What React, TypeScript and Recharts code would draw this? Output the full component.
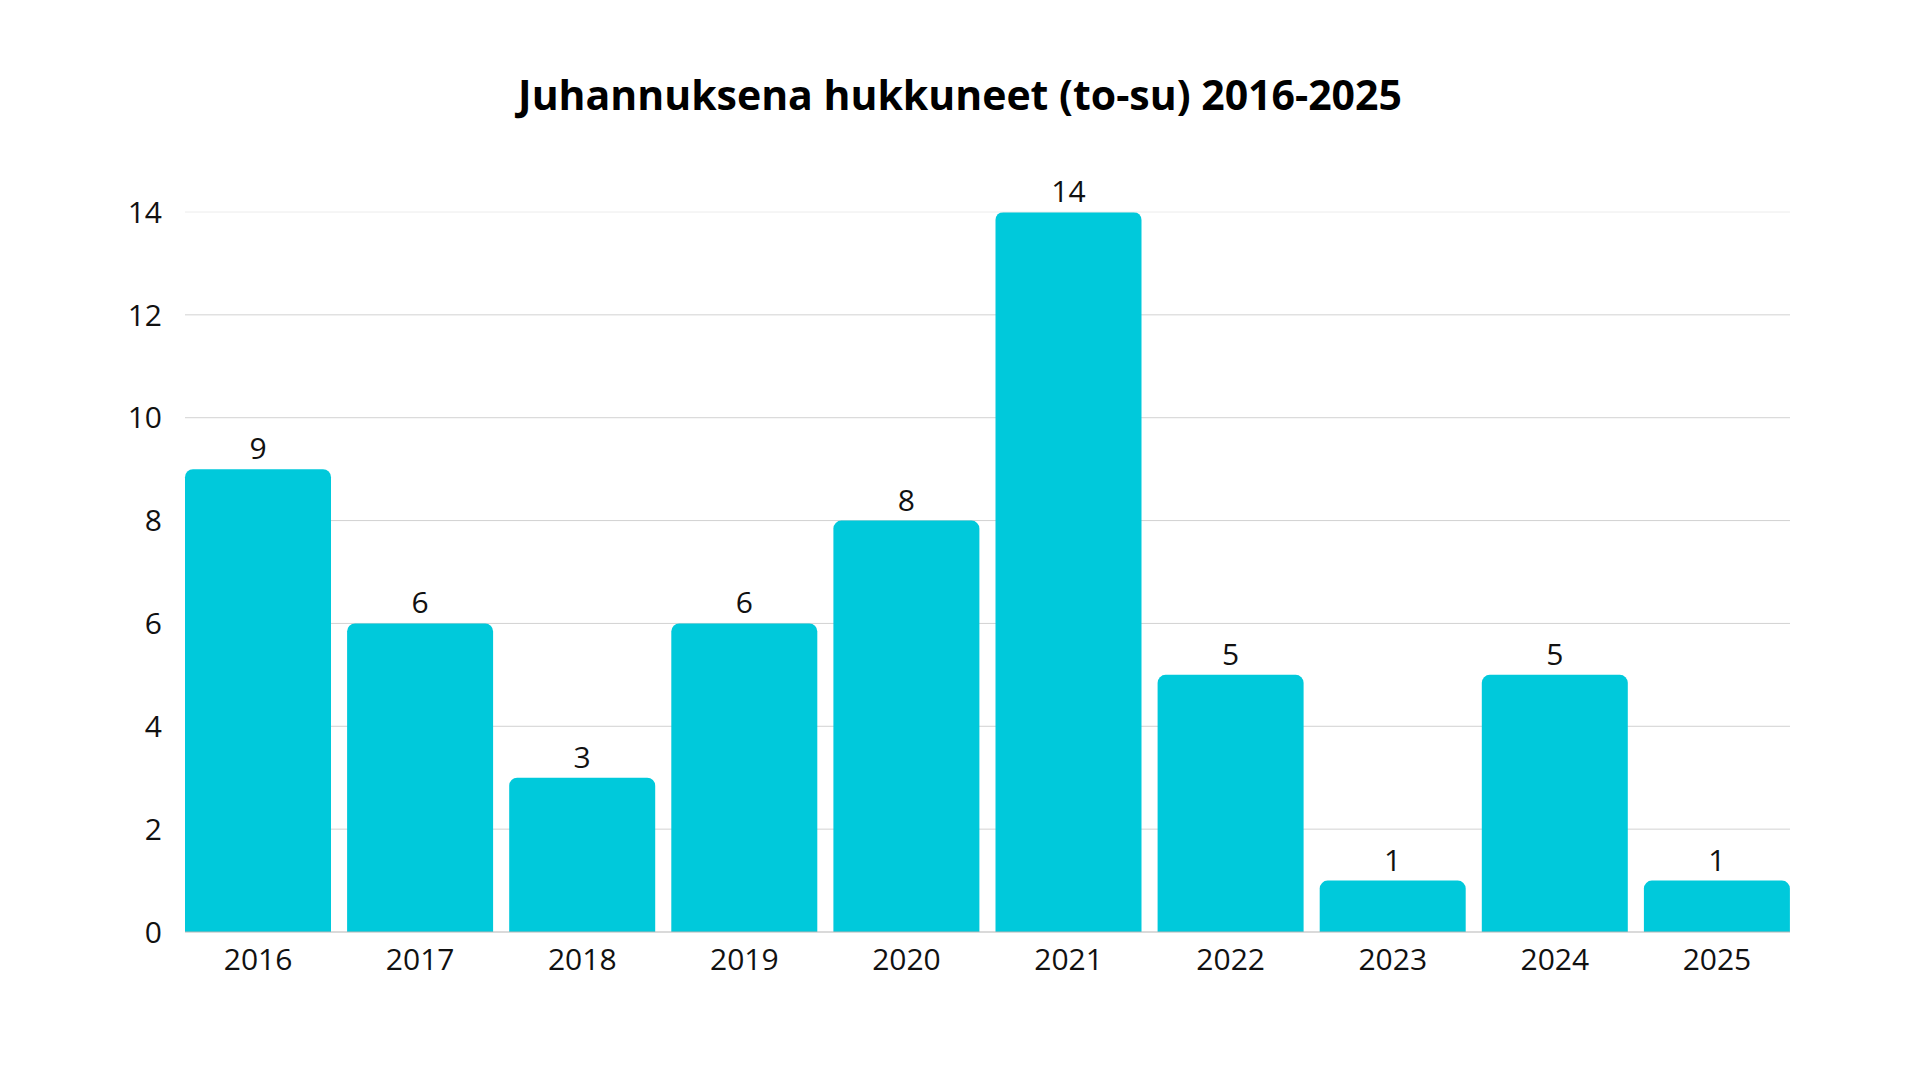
import { Bar, BarChart, CartesianGrid, LabelList, ReferenceLine, XAxis, YAxis } from "recharts";

const years = ["2016", "2017", "2018", "2019", "2020", "2021", "2022", "2023", "2024", "2025"];
const drowned = [9, 6, 3, 6, 8, 14, 5, 1, 5, 1];
const yTicks = [0, 2, 4, 6, 8, 10, 12, 14];

const data = years.map((year, i) => ({ year, value: drowned[i] }));

const font = "'Open Sans', sans-serif";

export default function App() {
  return (
    <div style={{ position: "absolute", left: 0, top: 0, width: 1920, height: 1080, background: "#fff", fontFamily: font }}>
      <div
        style={{
          position: "absolute",
          top: 74,
          left: 0,
          width: 1920,
          textAlign: "center",
          fontSize: 41,
          fontWeight: 700,
          lineHeight: 1,
          color: "#000",
        }}
      >
        Juhannuksena hukkuneet (to-su) 2016-2025
      </div>
      <BarChart width={1920} height={1080} data={data} margin={{ top: 212, right: 130, bottom: 118, left: 95 }}>
        <CartesianGrid vertical={false} horizontalValues={[2, 4, 6, 8, 10, 12]} stroke="#d2d2d2" />
        <ReferenceLine y={14} stroke="#ececec" />
        <XAxis
          dataKey="year"
          padding={{ left: -8, right: -8 }}
          tickLine={false}
          tickSize={0}
          tickMargin={17}
          axisLine={{ stroke: "#b5b5b5" }}
          tick={{ fontSize: 30, fill: "#111", fontFamily: font }}
          height={30}
        />
        <YAxis
          domain={[0, 14]}
          ticks={yTicks}
          axisLine={false}
          tickLine={false}
          tickSize={0}
          tickMargin={23}
          width={90}
          tick={{ fontSize: 30, fill: "#111", fontFamily: font }}
        />
        <Bar dataKey="value" fill="#00c9db" barSize={146} radius={[8, 8, 0, 0]} isAnimationActive={false}>
          <LabelList dataKey="value" position="top" offset={10} style={{ fontSize: 30, fill: "#111", fontFamily: font }} />
        </Bar>
      </BarChart>
    </div>
  );
}
